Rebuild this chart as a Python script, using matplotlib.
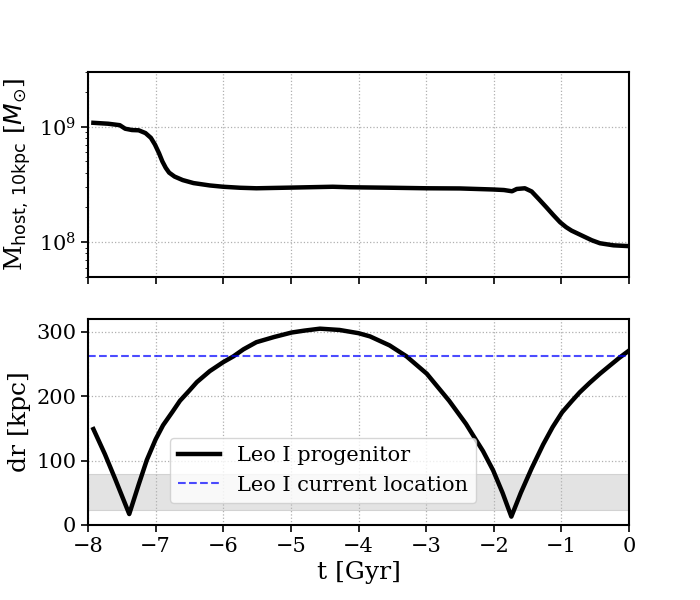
import matplotlib
matplotlib.use("Agg")
import matplotlib.pyplot as plt
from matplotlib.ticker import NullFormatter

plt.rcParams['font.family'] = ['DejaVu Serif']

# top panel: host mass within 10 kpc
t_m = [-7.92, -7.7, -7.53, -7.45, -7.35, -7.25, -7.15, -7.07, -7.01, -6.95, -6.9,
       -6.85, -6.8, -6.72, -6.6, -6.44, -6.2, -6.0, -5.75, -5.51, -4.99, -4.38,
       -4.13, -3.5, -2.99, -2.5, -2.01, -1.85, -1.73, -1.66, -1.54, -1.44, -1.33,
       -1.22, -1.12, -1.02, -0.93, -0.85, -0.68, -0.55, -0.43, -0.23, 0.0]
mass = [1.08e9, 1.06e9, 1.03e9, 0.96e9, 0.935e9, 0.93e9, 0.88e9, 0.80e9, 0.70e9,
        0.59e9, 0.50e9, 0.44e9, 0.40e9, 0.37e9, 0.345e9, 0.325e9, 0.31e9, 0.302e9,
        0.296e9, 0.293e9, 0.297e9, 0.302e9, 0.299e9, 0.296e9, 0.293e9, 0.292e9,
        0.286e9, 0.283e9, 0.276e9, 0.289e9, 0.293e9, 0.275e9, 0.235e9, 0.20e9,
        0.172e9, 0.149e9, 0.135e9, 0.126e9, 0.113e9, 0.104e9, 0.098e9, 0.094e9,
        0.0925e9]

# bottom panel: distance
t_dr = [-7.92, -7.75, -7.6, -7.39, -7.25, -7.13, -7.0, -6.89, -6.75, -6.64, -6.5,
        -6.39, -6.2, -6.0, -5.85, -5.7, -5.51, -5.25, -4.99, -4.8, -4.57, -4.28,
        -4.0, -3.83, -3.54, -3.29, -2.99, -2.66, -2.41, -2.28, -2.16, -2.01, -1.87,
        -1.74, -1.6, -1.44, -1.27, -1.13, -0.99, -0.85, -0.73, -0.58, -0.43, -0.28,
        -0.14, 0.0]
dr = [149, 110, 72, 17, 63, 101, 133, 155, 176, 193, 209, 222, 239, 253, 262, 273,
      284, 292, 299, 302, 305, 303, 298, 293, 279, 262, 235, 193, 157, 135, 115, 85,
      50, 13, 50, 88, 125, 152, 175, 192, 206, 221, 235, 248, 260, 271]

current_dr = 262
band = [23, 79]
xticks = [-8, -7, -6, -5, -4, -3, -2, -1, 0]
labels = ['Leo I progenitor', 'Leo I current location']

fig = plt.figure(figsize=(7, 6), dpi=100)
ax1 = fig.add_axes([0.1257, 0.5383, 0.7729, 0.3425])
ax2 = fig.add_axes([0.1257, 0.125, 0.7729, 0.3433])

for ax in (ax1, ax2):
    for s in ax.spines.values():
        s.set_linewidth(1.5)
    ax.grid(True, linestyle=':', color='#b0b0b0', linewidth=0.9)
    ax.tick_params(labelsize=15, width=1.2, length=5)
    ax.set_xlim(-8, 0)
    ax.set_xticks(xticks)

ax1.plot(t_m, mass, color='black', lw=3.2, solid_joinstyle='round')
ax1.set_yscale('log')
ax1.set_ylim(5e7, 3e9)
ax1.xaxis.set_major_formatter(NullFormatter())
ax1.set_ylabel(r'M$_{\rm host,\,10kpc}$ [$M_{\odot}$]', fontsize=18)

ax2.axhspan(band[0], band[1], facecolor='0.5', alpha=0.22, edgecolor='0.4', lw=0.8)
ax2.plot(t_dr, dr, color='black', lw=3.2, label=labels[0])
ax2.axhline(current_dr, color='blue', alpha=0.7, ls='--', lw=1.5, label=labels[1])
ax2.set_ylim(0, 320)
ax2.set_yticks([0, 100, 200, 300])
ax2.set_ylabel('dr [kpc]', fontsize=18)
ax2.set_xlabel('t [Gyr]', fontsize=18)
ax2.legend(loc='lower left', bbox_to_anchor=(0.1516, 0.107), borderaxespad=0,
           fontsize=15)

fig.savefig('out.png', dpi=100)
